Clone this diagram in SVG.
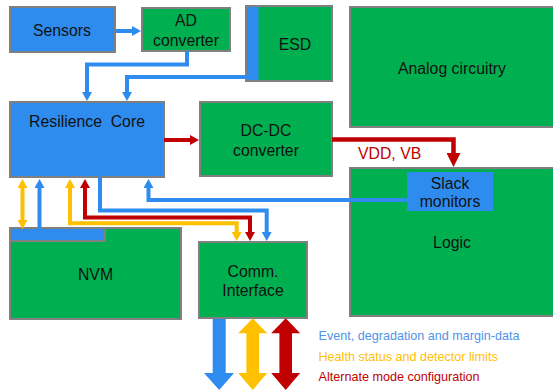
<svg xmlns="http://www.w3.org/2000/svg" width="553" height="390" viewBox="0 0 553 390">
<style>
  .g { fill: #00B050; stroke: #808080; stroke-width: 2; }
  .b { fill: #2E8CEF; stroke: #808080; stroke-width: 2; }
  .t { font-family: "Liberation Sans", Arial, sans-serif; font-size: 15.8px; fill: #111; text-anchor: middle; }
  .lg { font-family: "Liberation Sans", Arial, sans-serif; font-size: 12.6px; }
  .cb { fill: none; stroke: #2E8CEF; stroke-width: 4; }
  .cr { fill: none; stroke: #C00000; stroke-width: 4; }
  .cy { fill: none; stroke: #FFC000; stroke-width: 4; }
</style>
<defs>
  <marker id="ab" markerUnits="userSpaceOnUse" viewBox="0 -5 9 10" refX="0" refY="0" markerWidth="9" markerHeight="10" orient="auto-start-reverse"><path d="M0,-5 L9,0 L0,5 z" fill="#2E8CEF"/></marker>
  <marker id="ar" markerUnits="userSpaceOnUse" viewBox="0 -5 9 10" refX="0" refY="0" markerWidth="9" markerHeight="10" orient="auto-start-reverse"><path d="M0,-5 L9,0 L0,5 z" fill="#C00000"/></marker>
  <marker id="ay" markerUnits="userSpaceOnUse" viewBox="0 -5 9 10" refX="0" refY="0" markerWidth="9" markerHeight="10" orient="auto-start-reverse"><path d="M0,-5 L9,0 L0,5 z" fill="#FFC000"/></marker>
  <marker id="arBig" markerUnits="userSpaceOnUse" viewBox="0 -7 14 14" refX="0" refY="0" markerWidth="14" markerHeight="14" orient="auto"><path d="M0,-7 L14,0 L0,7 z" fill="#C00000"/></marker>
</defs>

<g id="sensors">
  <rect class="b" x="10" y="7" width="105" height="45"/>
  <text class="t" x="62" y="35.7">Sensors</text>
</g>
<g id="ad-converter">
  <rect class="g" x="142" y="8" width="88" height="43"/>
  <text class="t" x="186" y="25.5">AD</text>
  <text class="t" x="186" y="46">converter</text>
</g>
<g id="esd">
  <rect class="g" x="246" y="6" width="86" height="75"/>
  <rect x="247" y="7" width="11.5" height="73" fill="#2E8CEF"/>
  <text class="t" x="295" y="49.7">ESD</text>
</g>
<g id="analog">
  <rect class="g" x="350" y="7" width="205" height="120"/>
  <text class="t" x="452" y="74">Analog circuitry</text>
</g>
<g id="resilience-core">
  <rect class="b" x="10" y="102" width="154" height="75"/>
  <text class="t" x="87" y="127.3" xml:space="preserve" style="white-space:pre">Resilience  Core</text>
</g>
<g id="dcdc">
  <rect class="g" x="200" y="102" width="132" height="74"/>
  <text class="t" x="266" y="135.6">DC-DC</text>
  <text class="t" x="266" y="155.6">converter</text>
</g>
<g id="logic">
  <rect class="g" x="350" y="168" width="205" height="148"/>
  <text class="t" x="452" y="248.3">Logic</text>
</g>
<g id="nvm">
  <rect class="g" x="10" y="228" width="171" height="91"/>
  <rect class="b" x="10" y="228" width="95" height="13"/>
  <text class="t" x="95.5" y="279.6">NVM</text>
</g>
<g id="comm-interface">
  <rect class="g" x="199" y="242" width="108" height="76"/>
  <text class="t" x="253" y="277.3">Comm.</text>
  <text class="t" x="253" y="295.6">Interface</text>
</g>

<g id="connectors">
  <path class="cb" d="M115,31 H132" marker-end="url(#ab)"/>
  <path class="cb" d="M187,51 V64.5 H87 V92" marker-end="url(#ab)"/>
  <path class="cb" d="M247,77 H127 V92" marker-end="url(#ab)"/>
  <path class="cr" d="M164,140 H190" marker-end="url(#ar)"/>
  <path class="cr" style="stroke-width:4.5" d="M332,139.5 H453.5 V153" marker-end="url(#arBig)"/>
  <path class="cb" d="M407,200 H148.5 V188" marker-end="url(#ab)"/>
  <path class="cy" d="M22.5,188 V220" marker-start="url(#ay)" marker-end="url(#ay)"/>
  <path class="cb" d="M39.5,229 V188" marker-end="url(#ab)"/>
  <path class="cy" d="M70,188 V223.3 H236.7 V232" marker-start="url(#ay)" marker-end="url(#ay)"/>
  <path class="cr" d="M85,188 V217.5 H250 V232" marker-start="url(#ar)" marker-end="url(#ar)"/>
  <path class="cb" d="M100,177 V210.5 H266.7 V232" marker-end="url(#ab)"/>
  <polygon fill="#2E8CEF" points="212.7,319 225.7,319 225.7,373 234,373 219.2,390 204,373 212.7,373"/>
  <polygon fill="#FFC000" points="252.7,318.3 267.2,333.3 259,333.3 259,373 267.2,373 252.7,390 238.2,373 246.4,373 246.4,333.3 238.2,333.3"/>
  <polygon fill="#C00000" points="285.7,318.3 300.2,333.3 292,333.3 292,373 300.2,373 285.7,390 271.2,373 279.4,373 279.4,333.3 271.2,333.3"/>
</g>

<g id="slack-monitors">
  <rect x="407" y="172" width="86" height="39" fill="#2E8CEF"/>
  <text class="t" x="450" y="188.7">Slack</text>
  <text class="t" x="450" y="207.3">monitors</text>
</g>

<g id="labels">
  <text x="358" y="158.5" font-family="Liberation Sans, Arial, sans-serif" font-size="15.8" fill="#C00000">VDD, VB</text>
  <text class="lg" x="318.5" y="339.6" fill="#4F94E8">Event, degradation and margin-data</text>
  <text class="lg" x="318.5" y="361.2" fill="#FFC000">Health status and detector limits</text>
  <text class="lg" x="318.5" y="381.3" fill="#C00000">Alternate mode configuration</text>
</g>
</svg>
